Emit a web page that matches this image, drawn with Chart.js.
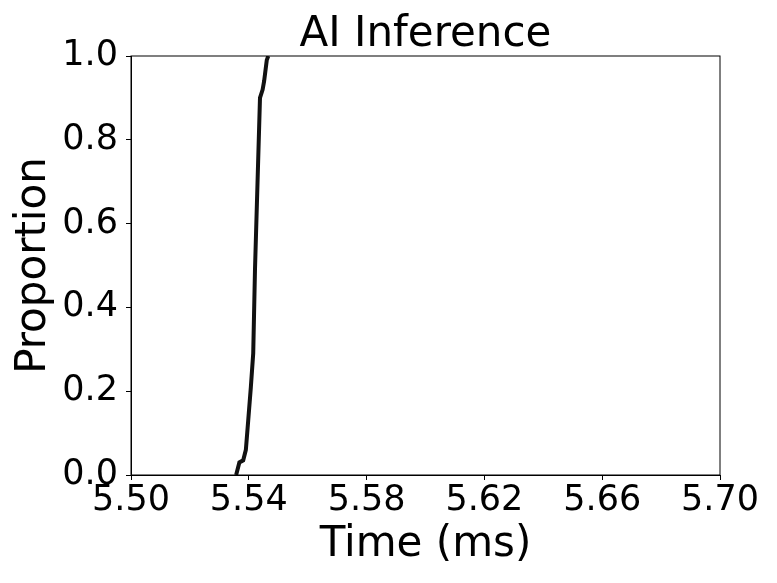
<!DOCTYPE html>
<html>
<head>
<meta charset="utf-8">
<script src="https://cdn.jsdelivr.net/npm/chart.js@4/dist/chart.umd.min.js"></script>
<style>
  html, body { margin: 0; padding: 0; background: #fff; }
  #wrap { width: 777px; height: 583px; }
</style>
</head>
<body>
<div id="wrap"><canvas id="cdf" width="777" height="583"></canvas></div>
<script>
// CDF of inference time
const timeMs = [5.5357, 5.5368, 5.5381, 5.5390, 5.5398, 5.5407, 5.5415, 5.5421, 5.5438, 5.5447, 5.5452, 5.5461, 5.5466];
const proportion = [0.00, 0.03, 0.035, 0.06, 0.13, 0.21, 0.29, 0.49, 0.90, 0.92, 0.94, 0.99, 1.00];

const xTicks = [5.50, 5.54, 5.58, 5.62, 5.66, 5.70];
const yTicks = [0.0, 0.2, 0.4, 0.6, 0.8, 1.0];

const chartTitle = 'AI Inference';
const FONT = 'DejaVu Sans';

// Box around the plot plus the title centred over the plot area (matplotlib style)
const frame = {
    id: 'frame',
    afterDraw(chart) {
        const { ctx, chartArea: a } = chart;
        ctx.save();
        ctx.strokeStyle = '#000';
        ctx.lineWidth = 1;
        ctx.strokeRect(a.left, a.top, a.right - a.left, a.bottom - a.top);

        ctx.fillStyle = '#000';
        ctx.font = '42px "' + FONT + '"';
        ctx.textAlign = 'center';
        ctx.textBaseline = 'alphabetic';
        ctx.fillText(chartTitle, (a.left + a.right) / 2, a.top - 10);
        ctx.restore();
    }
};

const ctx = document.getElementById('cdf').getContext('2d');
new Chart(ctx, {
    type: 'scatter',
    data: {
        datasets: [{
            data: timeMs.map((t, i) => ({ x: t, y: proportion[i] })),
            showLine: true,
            borderColor: '#111',
            backgroundColor: '#111',
            borderWidth: 4,
            pointRadius: 0,
            tension: 0
        }]
    },
    options: {
        responsive: false,
        animation: false,
        layout: { padding: { left: 0, right: 57, top: 56, bottom: 0 } },
        plugins: {
            legend: { display: false },
            tooltip: { enabled: false },
            title: { display: false }
        },
        scales: {
            x: {
                type: 'linear',
                min: 5.50,
                max: 5.70,
                afterBuildTicks: (scale) => { scale.ticks = xTicks.map(v => ({ value: v })); },
                afterFit: (scale) => { scale.height = 108; },
                ticks: {
                    color: '#000',
                    padding: 3,
                    maxRotation: 0,
                    autoSkip: false,
                    font: { family: FONT, size: 35, lineHeight: 1 },
                    callback: (v) => Number(v).toFixed(2)
                },
                grid: { drawOnChartArea: false, drawTicks: true, tickLength: 5, color: '#000' },
                border: { display: true, color: '#000' },
                title: {
                    display: true,
                    text: 'Time (ms)',
                    color: '#000',
                    font: { family: FONT, size: 42, lineHeight: 1 },
                    padding: { top: 0, bottom: 17 }
                }
            },
            y: {
                type: 'linear',
                min: 0,
                max: 1,
                afterBuildTicks: (scale) => { scale.ticks = yTicks.map(v => ({ value: v })); },
                afterFit: (scale) => { scale.width = 131; },
                ticks: {
                    color: '#000',
                    padding: 8,
                    autoSkip: false,
                    font: { family: FONT, size: 35, lineHeight: 1 },
                    callback: (v) => Number(v).toFixed(1)
                },
                grid: { drawOnChartArea: false, drawTicks: true, tickLength: 5, color: '#000' },
                border: { display: true, color: '#000' },
                title: {
                    display: true,
                    text: 'Proportion',
                    color: '#000',
                    font: { family: FONT, size: 42, lineHeight: 1 },
                    padding: { top: 13.5, bottom: 0 }
                }
            }
        }
    },
    plugins: [frame]
});
</script>
</body>
</html>
